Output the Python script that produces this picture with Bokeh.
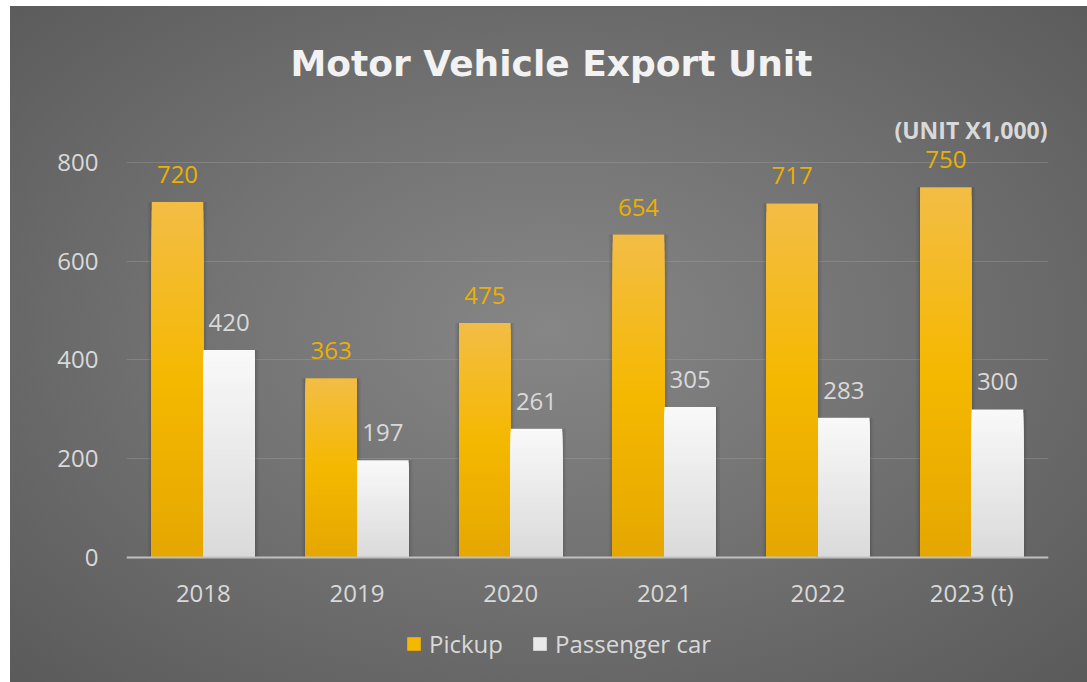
import numpy as np
from bokeh.plotting import figure
from bokeh.models import (FactorRange, Range1d, ColumnDataSource, LabelSet, Label,
                          Legend, LegendItem, FixedTicker)
from bokeh.transform import dodge
from bokeh.core.properties import value
from bokeh.embed import file_html
from bokeh.resources import INLINE

years = ["2018", "2019", "2020", "2021", "2022", "2023 (t)"]
pickup = [720, 363, 475, 654, 717, 750]
passenger = [420, 197, 261, 305, 283, 300]
y_ticks = [0, 200, 400, 600, 800]

FONT = "Open Sans"
N_SEG = 40


def lerp_hex(c0, c1, t):
    a = np.array([int(c0[i:i + 2], 16) for i in (1, 3, 5)], float)
    b = np.array([int(c1[i:i + 2], 16) for i in (1, 3, 5)], float)
    c = np.round(a + (b - a) * t).astype(int)
    return "#%02x%02x%02x" % tuple(c)


def grad(t, stops):
    # stops: list of (pos, color) from bottom (0) to top (1)
    for (p0, c0), (p1, c1) in zip(stops[:-1], stops[1:]):
        if t <= p1:
            return lerp_hex(c0, c1, (t - p0) / (p1 - p0))
    return stops[-1][1]


def gradient_source(cats, vals, stops):
    # each segment runs from 0 up to its own top; largest first, so the
    # smaller ones paint over them without any seam
    xs, tops, cols = [], [], []
    for k in reversed(range(N_SEG)):
        for c, v in zip(cats, vals):
            xs.append(c)
            tops.append(v * (k + 1) / N_SEG)
            cols.append(grad((k + 0.5) / N_SEG, stops))
    return ColumnDataSource(dict(year=xs, top=tops, color=cols))


pickup_stops = [(0.0, "#e5a700"), (0.5, "#f5b800"), (1.0, "#f3bd46")]
pass_stops = [(0.0, "#dadada"), (1.0, "#f9f9f9")]

src = ColumnDataSource(dict(
    year=years, pickup=pickup, passenger=passenger,
    pickup_txt=[str(v) for v in pickup], passenger_txt=[str(v) for v in passenger],
))
src_pk = gradient_source(years, pickup, pickup_stops)
src_ps = gradient_source(years, passenger, pass_stops)

p = figure(
    x_range=FactorRange(*years), y_range=Range1d(-253, 891),
    width=1077, height=676, output_backend="svg", toolbar_location=None,
    min_border_left=116, min_border_right=39, min_border_top=111, min_border_bottom=0,
    styles={"margin": "6px 0px 0px 10px",
            "background": "radial-gradient(ellipse at 50% 48%, #868686 0%, #737373 45%, #5a5a5a 100%)"},
)
p.background_fill_color = None
p.border_fill_color = None
p.outline_line_color = None

p.title.text = "Motor Vehicle Export Unit"
p.title.align = "left"
p.title.offset = 164
p.title.standoff = 67
p.title.text_font = "DejaVu Sans"
p.title.text_font_size = "36px"
p.title.text_font_style = "bold"
p.title.text_color = "#f2f2f2"

w = 0.336
# soft shadows behind the bars
for off, col in ((-0.168, "pickup"), (0.168, "passenger")):
    for extra, alpha in ((0.05, 0.06), (0.03, 0.08), (0.014, 0.10)):
        p.vbar(x=dodge("year", off, range=p.x_range), top=col, width=w + extra,
               source=src, fill_color="#202020", fill_alpha=alpha, line_color=None)

r1 = p.vbar(x=dodge("year", -0.168, range=p.x_range), top="top", width=w,
            source=src_pk, fill_color="color", line_color=None)
r2 = p.vbar(x=dodge("year", 0.168, range=p.x_range), top="top", width=w,
            source=src_ps, fill_color="color", line_color=None)

p.add_layout(LabelSet(x=dodge("year", -0.168, range=p.x_range), y="pickup", text="pickup_txt",
                      source=src, text_align="center", text_baseline="alphabetic", y_offset=19,
                      text_font=value(FONT), text_font_size=value("24px"), text_color="#ebb000"))
p.add_layout(LabelSet(x=dodge("year", 0.168, range=p.x_range), y="passenger", text="passenger_txt",
                      source=src, text_align="center", text_baseline="alphabetic", y_offset=19,
                      text_font=value(FONT), text_font_size=value("24px"), text_color="#d9d9d9"))

p.add_layout(Label(x=6, y=891, x_units="data", y_units="data", text="(UNIT X1,000)",
                   text_align="right", text_baseline="middle", x_offset=-1, y_offset=-12,
                   text_font=FONT, text_font_size="23px", text_font_style="bold",
                   text_color="#d9d9d9"))

p.yaxis.ticker = FixedTicker(ticks=y_ticks)
p.ygrid.ticker = FixedTicker(ticks=y_ticks)
p.xgrid.grid_line_color = None
p.ygrid.grid_line_color = "#a6a6a6"
p.ygrid.grid_line_alpha = 0.35

for ax in (p.xaxis, p.yaxis):
    ax.major_tick_line_color = None
    ax.minor_tick_line_color = None
    ax.major_label_text_font = FONT
    ax.major_label_text_font_size = "24px"
    ax.major_label_text_color = "#d9d9d9"
p.yaxis.axis_line_color = None
p.yaxis.major_label_standoff = 22
p.xaxis.fixed_location = 0
p.xaxis.axis_line_color = "#bfbfbf"
p.xaxis.axis_line_width = 2
p.xaxis.major_label_standoff = 12

legend = Legend(items=[LegendItem(label="Pickup", renderers=[r1], index=len(years) * N_SEG // 2),
                       LegendItem(label="Passenger car", renderers=[r2], index=len(years) * N_SEG // 2)],
                orientation="horizontal", location=(279, 22),
                label_text_font=FONT, label_text_font_size="24px", label_text_color="#d9d9d9",
                glyph_width=17, glyph_height=17, label_height=20, spacing=28,
                padding=0, margin=0, background_fill_alpha=0, border_line_color=None,
                label_standoff=7)
p.add_layout(legend)

open("out.html", "w").write(file_html(p, INLINE))
